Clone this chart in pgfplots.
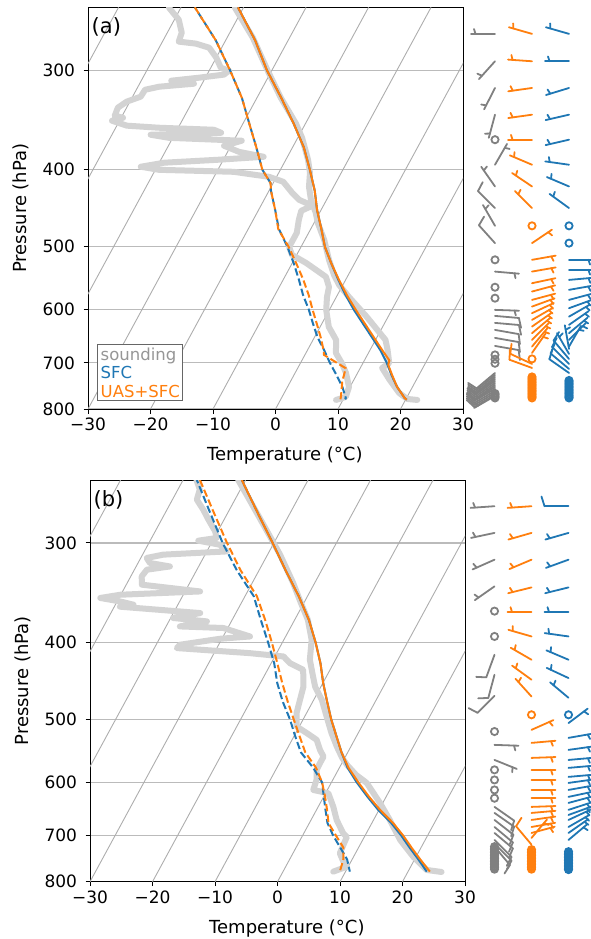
\documentclass[border=0pt]{standalone}
\usepackage{fontspec}
\setmainfont{DejaVu Sans}
\usepackage{pgfplots}
\usepackage{pgfplotstable}
\pgfplotsset{compat=1.18}

\definecolor{cblue}{HTML}{1F77B4}
\definecolor{corange}{HTML}{FF7F0E}
\definecolor{sndc}{HTML}{D3D3D3}
\definecolor{bgray}{HTML}{808080}
\definecolor{isoc}{HTML}{ADADAD}
\definecolor{gridc}{HTML}{BBBBBB}
\definecolor{legg}{HTML}{969696}

% ---------------- panel (a) profiles: p [hPa], T [degC] ----------------
\pgfplotstableread{
p T
250.3 -41.35
272.9 -35.9
299.5 -30.8
324.8 -26.2
350.2 -21.5
364.8 -19.3
388.7 -16.45
403.7 -15.0
420.3 -13.95
436.5 -12.5
453.3 -10.6
466.7 -9.4
490.2 -6.9
519.4 -4.4
542.5 -2.3
558.5 -0.6
578.2 2.0
612.7 6.6
655.0 11.6
674.2 12.8
700.2 14.2
710.4 13.5
735.5 15.75
763.8 18.4
777.1 20.2
779.4 21.9
}\aSndT
\pgfplotstableread{
p T
250.3 -51.9
259.1 -49.3
269.0 -47.7
276.1 -47.4
277.7 -44.5
281.0 -42.0
289.2 -40.0
297.8 -38.4
300.3 -36.8
303.8 -37.3
306.5 -41.0
309.2 -45.2
311.9 -41.3
314.6 -46.6
317.4 -48.6
323.8 -48.7
328.5 -50.5
334.3 -51.4
342.2 -51.2
344.2 -49.7
347.2 -51.2
352.2 -48.4
354.3 -43.1
356.4 -34.1
359.5 -32.7
361.6 -43.8
364.8 -40.6
367.9 -28.7
373.3 -31.1
379.9 -28.2
385.4 -23.8
388.7 -30.7
392.1 -39.2
396.7 -42.6
400.2 -39.4
402.5 -27.3
408.4 -21.2
414.3 -18.5
427.8 -16.1
436.5 -14.4
441.6 -12.6
445.5 -12.05
450.6 -13.1
462.6 -12.7
480.3 -11.9
490.2 -11.9
500.3 -11.9
512.0 -10.75
524.0 -7.8
534.7 -5.6
545.7 -3.4
561.8 -2.05
578.2 -1.5
600.4 -0.5
630.8 1.4
655.0 3.7
680.2 4.8
700.2 6.6
720.7 8.15
750.6 9.85
772.6 10.2
779.4 8.9
}\aSndTd
\pgfplotstableread{
p T
250 -40.9
275 -35.3
300 -30.8
325 -26.1
350 -21.9
375 -18.2
400 -15.3
425 -12.7
450 -10.6
475 -8.3
500 -6.2
525 -3.7
550 -1.2
575 1.3
600 3.9
625 6.6
650 9.2
675 11.7
700 13.8
725 15.6
750 17.5
775 19.7
779 20.2
}\aSfcT
\pgfplotstableread{
p T
250 -40.9
275 -35.3
300 -30.8
325 -26.1
350 -21.9
375 -18.2
400 -15.3
425 -12.7
450 -10.6
475 -8.3
500 -6.2
525 -3.7
550 -1.1
575 1.5
600 4.2
625 6.9
650 9.5
675 12.0
695 14.0
704 14.2
725 15.7
750 17.5
775 19.7
779 20.2
}\aUasT
\pgfplotstableread{
p T
250 -47.8
275 -41.6
300 -36.7
325 -32.4
350 -29.0
375 -25.8
400 -22.9
416 -20.4
425 -19.7
450 -17.3
475 -15.1
500 -12.2
525 -9.7
550 -7.5
575 -5.5
600 -3.3
625 -1.4
650 0.5
675 2.7
700 4.7
725 6.8
750 8.75
775 10.3
778 10.3
}\aSfcTd
\pgfplotstableread{
p T
250 -47.8
275 -41.6
300 -36.7
325 -32.4
350 -29.0
375 -25.8
400 -22.9
416 -20.4
425 -19.7
450 -17.3
475 -15.2
500 -12.0
525 -9.3
550 -6.8
575 -4.6
600 -2.7
625 -0.8
650 1.0
675 2.6
684 3.06
694 4.8
711 7.7
739 8.3
772 9.4
778 9.55
}\aUasTd

% ---------------- panel (b) profiles ----------------
\pgfplotstableread{
p T
249.7 -41.25
268.5 -36.8
288.6 -32.4
310.3 -28.0
336.5 -23.5
356.7 -20.5
374.7 -17.9
397.1 -15.55
420.7 -14.1
442.0 -12.1
455.0 -10.9
472.5 -8.7
496.3 -6.45
519.9 -4.3
541.4 -2.2
559.0 -0.4
570.4 0.97
587.2 3.3
601.0 5.7
636.8 9.55
669.0 12.6
708.9 16.0
744.7 19.6
773.3 22.85
777.8 25.4
}\bSndT
\pgfplotstableread{
p T
249.7 -47.9
257.0 -46.5
264.6 -46.1
272.4 -44.2
280.4 -42.5
290.1 -40.4
295.7 -39.6
298.0 -42.3
301.5 -38.5
307.4 -36.8
310.3 -46.7
313.3 -49.05
317.9 -48.1
321.1 -44.6
324.1 -48.0
330.5 -48.25
338.5 -47.5
345.2 -37.6
348.5 -50.1
351.8 -53.0
355.3 -49.55
358.7 -47.1
360.8 -49.1
367.5 -35.7
372.8 -39.6
376.5 -33.9
382.0 -37.8
383.8 -30.7
393.3 -25.7
395.9 -30.3
402.8 -36.2
406.7 -36.4
412.7 -24.3
416.7 -18.6
424.8 -17.0
433.1 -14.3
454.6 -12.8
472.5 -12.2
491.0 -11.6
510.5 -10.4
520.3 -8.2
530.5 -6.05
546.2 -4.65
556.9 -3.5
567.6 -3.5
578.7 -3.45
595.8 -2.6
613.3 -2.25
619.2 0.45
643.7 2.4
669.0 4.1
695.3 6.3
702.8 7.2
736.8 7.5
755.0 8.8
765.9 9.8
777.1 8.05
}\bSndTd
\pgfplotstableread{
p T
250 -40.6
275 -35.2
300 -30.2
325 -25.7
350 -21.4
375 -17.7
400 -14.7
425 -12.1
450 -9.95
475 -7.7
500 -5.5
525 -3.2
550 -1.0
575 1.3
600 4.05
625 6.95
650 9.9
675 13.1
700 15.8
725 18.2
750 20.6
777 23.0
}\bSfcT
\pgfplotstableread{
p T
250 -40.6
275 -35.2
300 -30.2
325 -25.7
350 -21.4
375 -17.7
400 -14.7
425 -12.1
450 -9.95
475 -7.7
500 -5.5
525 -3.2
550 -1.0
575 1.45
600 4.3
625 7.2
650 10.2
675 13.4
700 16.1
725 18.5
750 20.9
777 23.5
}\bUasT
\pgfplotstableread{
p T
250 -47.8
275 -42.8
300 -38.2
325 -33.5
350 -28.6
375 -25.4
400 -22.3
425 -19.5
450 -17.3
475 -14.8
500 -12.1
525 -9.8
550 -7.5
575 -4.2
600 -1.5
625 0.0
650 1.45
675 2.9
700 4.9
725 7.1
750 9.2
777 10.7
}\bSfcTd
\pgfplotstableread{
p T
250 -47.3
275 -42.2
300 -37.5
325 -32.9
350 -28.1
375 -24.7
400 -21.7
425 -19.0
450 -16.5
475 -14.0
500 -11.5
525 -9.1
550 -6.8
575 -3.75
600 -1.5
625 0.2
650 1.7
675 3.06
700 5.35
725 7.6
750 8.6
777 9.1
}\bUasTd

% ---------------- wind barbs: p [hPa], direction [deg], speed [kt] ----------------
\pgfplotstableread{
p dir spd
270.0 270 5
292.3 222 5
315.8 207 5
341.2 195 5
366.8 0 0
394.4 30 5
420.0 325 5
447.1 315 10
470.7 330 5
494.9 318 10
519.4 0 0
537.4 95 5
562.3 0 0
580.4 0 0
600.4 92 5
611.0 95 10
623.5 95 10
636.3 100 10
651.2 100 10
666.5 100 10
684.1 0 0
692.7 0 0
700.8 0 0
720.7 230 10
724.9 230 10
729.1 230 10
733.4 232 10
737.6 235 10
741.9 235 10
746.2 235 10
750.6 238 10
754.9 240 10
759.3 240 10
763.8 240 10
768.2 240 10
770.4 240 5
764.9 0 0
768.2 0 0
771.5 0 0
774.9 0 0
}\aBg
\pgfplotstableread{
p dir spd
270.0 286 5
292.3 274 5
315.8 262 5
341.2 262 5
366.8 270 5
394.4 293 5
420.0 304 5
447.1 315 5
470.7 0 0
494.9 56 5
519.4 80 5
537.4 80 5
555.8 78 5
569.4 75 5
583.3 75 5
594.7 70 5
606.2 65 5
618.1 60 5
630.2 55 5
642.4 50 5
655.0 45 5
667.8 40 5
680.1 35 5
692.1 0 0
702.2 295 10
710.4 290 10
729.1 0 0
732.3 0 0
735.5 0 0
738.7 0 0
741.9 0 0
745.2 0 0
748.4 0 0
751.7 0 0
754.9 0 0
758.2 0 0
761.5 0 0
764.9 0 0
768.2 0 0
771.5 0 0
774.9 0 0
}\aBo
\pgfplotstableread{
p dir spd
270.0 286 5
292.3 270 5
315.8 253 5
341.2 257 5
366.8 257 5
394.4 278 5
420.0 293 5
447.1 306 5
470.7 0 0
494.9 0 0
519.4 90 5
534.7 90 5
550.5 85 5
566.6 80 5
583.3 75 5
597.5 70 5
612.3 60 5
627.1 55 5
642.4 50 5
655.0 45 5
667.8 30 5
672.3 350 5
682.1 330 5
692.1 320 10
702.2 315 10
712.4 310 10
720.7 305 10
736.6 0 0
739.8 0 0
743.0 0 0
746.2 0 0
749.5 0 0
752.7 0 0
756.0 0 0
759.3 0 0
762.6 0 0
765.9 0 0
769.3 0 0
772.6 0 0
774.9 0 0
}\aBb
\pgfplotstableread{
p dir spd
269.7 266 5
291.4 258 5
314.9 246 5
340.2 235 5
365.5 0 0
393.3 0 0
414.7 200 10
439.4 195 10
467.0 225 10
517.9 0 0
538.3 92 5
562.3 112 5
578.7 0 0
595.8 0 0
613.3 0 0
628.2 0 0
644.2 125 10
655.6 125 10
669.0 128 10
682.8 130 10
694.7 130 10
708.9 135 10
716.6 135 10
722.8 140 10
722.8 0 0
726.0 0 0
729.1 0 0
732.3 0 0
735.5 0 0
738.7 0 0
741.9 0 0
745.2 0 0
748.4 0 0
751.7 0 0
754.9 0 0
758.2 0 0
761.5 0 0
764.9 0 0
768.2 0 0
771.5 0 0
}\bBg
\pgfplotstableread{
p dir spd
269.7 266 5
291.4 254 5
314.9 247 5
341.2 256 5
366.4 270 5
393.3 286 5
420.7 300 5
445.8 306 5
468.0 318 5
493.4 0 0
515.4 66 5
535.2 85 5
559.0 88 5
578.7 90 5
595.8 90 5
613.3 90 5
627.7 90 5
644.2 88 5
655.6 85 5
669.0 82 5
682.8 80 5
694.7 75 5
704.8 40 5
718.6 320 10
729.1 0 0
732.3 0 0
735.5 0 0
738.7 0 0
741.9 0 0
745.2 0 0
748.4 0 0
751.7 0 0
754.9 0 0
758.2 0 0
761.5 0 0
764.9 0 0
768.2 0 0
771.5 0 0
}\bBo
\pgfplotstableread{
p dir spd
269.7 270 10
291.4 254 5
314.9 250 5
341.2 256 5
366.4 270 5
393.3 278 5
420.7 293 5
443.6 295 5
469.7 310 5
493.4 0 0
505.4 53 5
527.5 80 5
546.2 82 5
562.3 85 5
575.4 85 5
590.6 85 5
601.0 82 5
613.3 80 5
625.8 78 5
636.8 75 5
649.8 72 5
659.4 70 5
669.0 65 5
682.8 60 5
694.7 55 5
708.9 50 5
733.4 0 0
736.6 0 0
739.8 0 0
743.0 0 0
746.2 0 0
749.5 0 0
752.7 0 0
756.0 0 0
759.3 0 0
762.6 0 0
765.9 0 0
769.3 0 0
772.6 0 0
}\bBb

\newcommand\sk{\thisrow{T}+30*ln(800/\thisrow{p})}

% barbs: #1 table, #2 column position, #3 colour.  Axis units: 37pt per x unit, 345.36pt per ln(p) unit
\newcommand\barbs[3]{%
  \addplot[#3, line width=1.8pt, line cap=round, -,
    quiver={u=24*sin(\thisrow{dir})/37, v=-24*cos(\thisrow{dir})/345.36}]
    table[x expr={\thisrow{spd}<2.5 ? nan : #2}, y expr={ln(\thisrow{p})}] {#1};
  \addplot[#3, line width=1.8pt, line cap=round, -,
    quiver={u=(1.5*sin(\thisrow{dir})+4.8*cos(\thisrow{dir}))/37, v=-(1.5*cos(\thisrow{dir})-4.8*sin(\thisrow{dir}))/345.36}]
    table[x expr={(\thisrow{spd}<2.5 || \thisrow{spd}>7.4) ? nan : #2+19.5*sin(\thisrow{dir})/37}, y expr={ln(\thisrow{p})-19.5*cos(\thisrow{dir})/345.36}] {#1};
  \addplot[#3, line width=1.8pt, line cap=round, -,
    quiver={u=(3*sin(\thisrow{dir})+9.6*cos(\thisrow{dir}))/37, v=-(3*cos(\thisrow{dir})-9.6*sin(\thisrow{dir}))/345.36}]
    table[x expr={\thisrow{spd}<7.5 ? nan : #2+24*sin(\thisrow{dir})/37}, y expr={ln(\thisrow{p})-24*cos(\thisrow{dir})/345.36}] {#1};
  \addplot[#3, line width=1.8pt, only marks, mark=o, mark size=3.6pt]
    table[x expr={\thisrow{spd}<2.5 ? #2 : nan}, y expr={ln(\thisrow{p})}] {#1};
}

\begin{document}
\begin{tikzpicture}
\path[use as bounding box] (0,0) rectangle (591pt,-939pt);

% ===== panel (a) =====
\begin{axis}[at={(88pt,-7.3pt)}, anchor=north west,
    scale only axis, width=375pt, height=401.7pt,
    xmin=-30, xmax=30, ymode=log, ymin=250, ymax=800, y dir=reverse,
    xtick={-30,-20,-10,0,10,20,30},
    xticklabels={−30,−20,−10,0,10,20,30},
    ytick={300,400,500,600,700,800},
    yticklabels={300,400,500,600,700,800},
    yminorticks=false,
    ymajorgrids, major grid style={gridc, line width=1.1pt},
    tick align=outside, tick pos=left,
    major tick length=4.5pt,
    tick style={black, line width=1pt},
    axis line style={line width=1pt},
    tick label style={font=\fontsize{17}{17}\selectfont},
    yticklabel style={xshift=-5pt},
    xticklabel style={yshift=-1pt},
    xlabel={Temperature (°C)}, ylabel={Pressure (hPa)},
    label style={font=\fontsize{18}{18}\selectfont},
    ylabel style={at={(axis description cs:-0.163,0.5)}, anchor=base},
    xlabel style={at={(axis description cs:0.525,-0.1285)}, anchor=base}]
  \addplot[isoc, line width=0.9pt] coordinates {(-100,800) (-65.11,250)};
  \addplot[isoc, line width=0.9pt] coordinates {(-90,800) (-55.11,250)};
  \addplot[isoc, line width=0.9pt] coordinates {(-80,800) (-45.11,250)};
  \addplot[isoc, line width=0.9pt] coordinates {(-70,800) (-35.11,250)};
  \addplot[isoc, line width=0.9pt] coordinates {(-60,800) (-25.11,250)};
  \addplot[isoc, line width=0.9pt] coordinates {(-50,800) (-15.11,250)};
  \addplot[isoc, line width=0.9pt] coordinates {(-40,800) (-5.11,250)};
  \addplot[isoc, line width=0.9pt] coordinates {(-30,800) (4.89,250)};
  \addplot[isoc, line width=0.9pt] coordinates {(-20,800) (14.89,250)};
  \addplot[isoc, line width=0.9pt] coordinates {(-10,800) (24.89,250)};
  \addplot[isoc, line width=0.9pt] coordinates {(0,800) (34.89,250)};
  \addplot[isoc, line width=0.9pt] coordinates {(10,800) (44.89,250)};
  \addplot[isoc, line width=0.9pt] coordinates {(20,800) (54.89,250)};
  \addplot[sndc, line width=6pt, line join=round, line cap=round] table[x expr=\sk, y=p] {\aSndTd};
  \addplot[sndc, line width=6pt, line join=round, line cap=round] table[x expr=\sk, y=p] {\aSndT};
  \addplot[cblue, line width=2pt, dash pattern=on 7.4pt off 3.2pt, dash phase=4pt] table[x expr=\sk, y=p] {\aSfcTd};
  \addplot[cblue, line width=2pt, line join=round] table[x expr=\sk, y=p] {\aSfcT};
  \addplot[corange, line width=2pt, dash pattern=on 7.4pt off 3.2pt] table[x expr=\sk, y=p] {\aUasTd};
  \addplot[corange, line width=2pt, line join=round] table[x expr=\sk, y=p] {\aUasT};
  \node[anchor=north west, inner sep=0pt, xshift=3.5pt, yshift=-10pt, font=\fontsize{21}{21}\selectfont]
    at (axis description cs:0,1) {(a)};
  \node[anchor=south west, draw=black!60, line width=0.8pt, fill=white, align=left,
        inner xsep=3pt, inner ysep=3pt, font=\fontsize{16.5}{18.7}\selectfont]
    at (axis description cs:0.0248,0.0199)
    {\textcolor{legg}{sounding}\\\textcolor{cblue}{SFC}\\\textcolor{corange}{UAS+SFC}};
\end{axis}

\begin{axis}[at={(470pt,-7.3pt)}, anchor=north west,
    scale only axis, width=121pt, height=401.7pt,
    xmin=0.3243, xmax=3.5946, ymin=5.52146, ymax=6.68461, y dir=reverse,
    hide axis, clip=false]
  \barbs{\aBg}{1}{bgray}
  \barbs{\aBo}{2}{corange}
  \barbs{\aBb}{3}{cblue}
\end{axis}

% ===== panel (b) =====
\begin{axis}[at={(90pt,-480pt)}, anchor=north west,
    scale only axis, width=375pt, height=401.7pt,
    xmin=-30, xmax=30, ymode=log, ymin=250, ymax=800, y dir=reverse,
    xtick={-30,-20,-10,0,10,20,30},
    xticklabels={−30,−20,−10,0,10,20,30},
    ytick={300,400,500,600,700,800},
    yticklabels={300,400,500,600,700,800},
    yminorticks=false,
    ymajorgrids, major grid style={gridc, line width=1.1pt},
    tick align=outside, tick pos=left,
    major tick length=4.5pt,
    tick style={black, line width=1pt},
    axis line style={line width=1pt},
    tick label style={font=\fontsize{17}{17}\selectfont},
    yticklabel style={xshift=-5pt},
    xticklabel style={yshift=-1pt},
    xlabel={Temperature (°C)}, ylabel={Pressure (hPa)},
    label style={font=\fontsize{18}{18}\selectfont},
    ylabel style={at={(axis description cs:-0.163,0.5)}, anchor=base},
    xlabel style={at={(axis description cs:0.525,-0.1285)}, anchor=base}]
  \addplot[isoc, line width=0.9pt] coordinates {(-100,800) (-65.11,250)};
  \addplot[isoc, line width=0.9pt] coordinates {(-90,800) (-55.11,250)};
  \addplot[isoc, line width=0.9pt] coordinates {(-80,800) (-45.11,250)};
  \addplot[isoc, line width=0.9pt] coordinates {(-70,800) (-35.11,250)};
  \addplot[isoc, line width=0.9pt] coordinates {(-60,800) (-25.11,250)};
  \addplot[isoc, line width=0.9pt] coordinates {(-50,800) (-15.11,250)};
  \addplot[isoc, line width=0.9pt] coordinates {(-40,800) (-5.11,250)};
  \addplot[isoc, line width=0.9pt] coordinates {(-30,800) (4.89,250)};
  \addplot[isoc, line width=0.9pt] coordinates {(-20,800) (14.89,250)};
  \addplot[isoc, line width=0.9pt] coordinates {(-10,800) (24.89,250)};
  \addplot[isoc, line width=0.9pt] coordinates {(0,800) (34.89,250)};
  \addplot[isoc, line width=0.9pt] coordinates {(10,800) (44.89,250)};
  \addplot[isoc, line width=0.9pt] coordinates {(20,800) (54.89,250)};
  \addplot[sndc, line width=6pt, line join=round, line cap=round] table[x expr=\sk, y=p] {\bSndTd};
  \addplot[sndc, line width=6pt, line join=round, line cap=round] table[x expr=\sk, y=p] {\bSndT};
  \addplot[cblue, line width=2pt, dash pattern=on 7.4pt off 3.2pt, dash phase=4pt] table[x expr=\sk, y=p] {\bSfcTd};
  \addplot[cblue, line width=2pt, line join=round] table[x expr=\sk, y=p] {\bSfcT};
  \addplot[corange, line width=2pt, dash pattern=on 7.4pt off 3.2pt] table[x expr=\sk, y=p] {\bUasTd};
  \addplot[corange, line width=2pt, line join=round] table[x expr=\sk, y=p] {\bUasT};
  \node[anchor=north west, inner sep=0pt, xshift=3.5pt, yshift=-10pt, font=\fontsize{21}{21}\selectfont]
    at (axis description cs:0,1) {(b)};
\end{axis}

\begin{axis}[at={(469.5pt,-480pt)}, anchor=north west,
    scale only axis, width=121pt, height=401.7pt,
    xmin=0.3243, xmax=3.5946, ymin=5.52146, ymax=6.68461, y dir=reverse,
    hide axis, clip=false]
  \barbs{\bBg}{1}{bgray}
  \barbs{\bBo}{2}{corange}
  \barbs{\bBb}{3}{cblue}
\end{axis}
\end{tikzpicture}
\end{document}
